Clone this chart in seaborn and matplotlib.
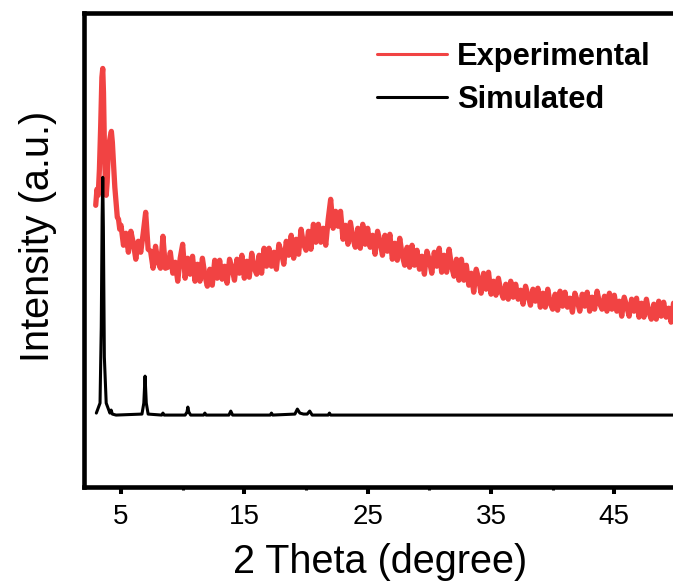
import numpy as np
import pandas as pd
import matplotlib
matplotlib.use("Agg")
import matplotlib.pyplot as plt
import seaborn as sns

# ---------------- data ----------------
# Experimental pattern: sharp low-angle part
exp_head_x = [2.95, 3.05, 3.15, 3.25, 3.35, 3.45, 3.52, 3.58, 3.65, 3.72, 3.80, 3.88,
              3.95, 4.05, 4.15, 4.22, 4.30, 4.40, 4.50, 4.60, 4.70, 4.80, 4.90]
exp_head_y = [282, 298, 292, 318, 360, 410, 419, 395, 345, 310, 292, 305,
              330, 345, 352, 356, 345, 322, 300, 285, 270, 268, 258]

# Experimental pattern: scan from 5.0 to 50.0 deg, 0.2 deg step (noisy)
scan_start, scan_step = 5.0, 0.2
exp_scan_y = [
    262, 242, 254, 235, 256, 244, 228, 246, 235, 254,          # 5.0 - 6.8
    275, 238, 236, 219, 241, 225, 219, 251, 219, 220,          # 7.0 - 8.8
    235, 214, 225, 206, 229, 243, 209, 229, 213, 231,          # 9.0 - 10.8
    206, 223, 206, 229, 212, 201, 218, 202, 227, 209,          # 11.0 - 12.8
    227, 208, 221, 204, 228, 219, 207, 228, 214, 232,          # 13.0 - 14.8
    209, 226, 210, 234, 219, 213, 232, 214, 239, 221,          # 15.0 - 16.8
    239, 221, 235, 218, 243, 235, 223, 246, 232, 252,          # 17.0 - 18.8
    229, 248, 233, 258, 243, 237, 256, 238, 263, 245,          # 19.0 - 20.8
    263, 245, 259, 242, 268, 288, 259, 276, 261, 276,          # 21.0 - 22.8
    248, 262, 243, 265, 249, 240, 259, 239, 263, 243,          # 23.0 - 24.8
    259, 240, 252, 233, 256, 246, 232, 252, 236, 253,          # 25.0 - 26.8
    228, 244, 227, 249, 232, 222, 240, 220, 242, 222,          # 27.0 - 28.8
    237, 218, 231, 213, 236, 227, 214, 235, 221, 239,          # 29.0 - 30.8
    215, 232, 215, 238, 221, 211, 228, 207, 228, 207,          # 31.0 - 32.8
    222, 202, 214, 195, 218, 208, 194, 214, 198, 215,          # 33.0 - 34.8
    193, 206, 192, 209, 196, 189, 203, 188, 206, 190,          # 35.0 - 36.8
    203, 188, 197, 183, 201, 192, 182, 198, 186, 199,          # 37.0 - 38.8
    180, 194, 180, 198, 184, 178, 193, 177, 196, 181,          # 39.0 - 40.8
    195, 180, 189, 175, 194, 186, 176, 193, 181, 195,          # 41.0 - 42.8
    176, 190, 178, 196, 184, 178, 191, 176, 194, 178,          # 43.0 - 44.8
    192, 176, 186, 171, 190, 181, 171, 188, 176, 189,          # 45.0 - 46.8
    170, 184, 170, 188, 175, 168, 183, 168, 186, 171,          # 47.0 - 48.8
    185, 170, 179, 165, 184, 176,                              # 49.0 - 50.0
]

# Simulated pattern
sim_x = [3.00, 3.30, 3.40, 3.47, 3.52, 3.57, 3.65, 3.80, 4.10, 4.20, 4.30, 4.60,
         6.70, 6.85, 6.95, 7.05, 7.20, 8.30, 8.40, 8.50, 10.20, 10.35, 10.42, 10.50,
         10.65, 11.70, 11.80, 11.90, 13.75, 13.90, 14.05, 17.10, 17.20, 17.30, 19.10,
         19.30, 19.50, 19.80, 20.10, 20.30, 20.50, 21.80, 21.90, 22.00, 50.00]
sim_y = [74, 84, 160, 270, 310, 260, 130, 84, 74, 77, 73, 72,
         73, 84, 111, 84, 73, 72, 74, 72, 72, 75, 80, 75,
         72, 72, 74, 72, 72, 76, 72, 72, 74, 72, 73,
         78, 74, 73, 73, 76, 72, 72, 74, 72, 72]

x_major = [5, 15, 25, 35, 45]
x_minor = [10, 20, 30, 40]
series_names = ["Experimental", "Simulated"]
series_colors = ["#F14343", "#000000"]

# ---------------- build frames ----------------
scan_x = np.round(scan_start + scan_step * np.arange(len(exp_scan_y)), 2)
exp_df = pd.DataFrame({"two_theta": list(exp_head_x) + list(scan_x),
                       "intensity": list(exp_head_y) + list(exp_scan_y)})
sim_df = pd.DataFrame({"two_theta": sim_x, "intensity": sim_y})

# ---------------- figure ----------------
sns.set_theme(style="white")
plt.rcParams["font.family"] = ["Liberation Sans", "DejaVu Sans"]
plt.rcParams["text.color"] = "black"
plt.rcParams["axes.labelcolor"] = "black"
plt.rcParams["xtick.color"] = "black"
plt.rcParams["path.simplify"] = False

W, H = 673, 587
fig = plt.figure(figsize=(W / 100, H / 100), dpi=100)
ax = fig.add_axes([84 / W, 100 / H, 592 / W, 474.5 / H])

sns.lineplot(data=exp_df, x="two_theta", y="intensity", ax=ax, sort=False,
             estimator=None, color=series_colors[0], lw=3.8, label=series_names[0])
sns.lineplot(data=sim_df, x="two_theta", y="intensity", ax=ax, sort=False,
             estimator=None, color=series_colors[1], lw=2.2, label=series_names[1])

ax.set_xlim(2, 50)
ax.set_ylim(0, 475)

for s in ax.spines.values():
    s.set_linewidth(3.3)
    s.set_color("black")

ax.set_xticks(x_major)
ax.set_xticklabels([str(v) for v in x_major])
ax.set_xticks(x_minor, minor=True)
ax.set_yticks([])
ax.tick_params(axis="x", which="major", direction="out", length=5, width=2.9,
               labelsize=20, pad=7.5, colors="black", bottom=True)
ax.tick_params(axis="x", which="minor", direction="out", length=2.5, width=2.2,
               bottom=True, colors="black")

ax.set_xlabel("2 Theta (degree)", fontsize=28.5, labelpad=9, color="black")
ax.set_ylabel("Intensity (a.u.)", fontsize=28.5, color="black")
ax.yaxis.set_label_coords(-0.045, 0.528)

leg = ax.legend(loc="upper left", bbox_to_anchor=(377 / W, 1 - 42 / H),
                bbox_transform=fig.transFigure, frameon=False,
                prop={"weight": "bold", "size": 22.2}, handlelength=2.27,
                handletextpad=0.32, labelspacing=0.42, borderpad=0,
                borderaxespad=0)
for line in leg.get_lines():
    line.set_linewidth(2.2)
for t in leg.get_texts():
    t.set_color("black")

fig.savefig("out.png", dpi=100)
